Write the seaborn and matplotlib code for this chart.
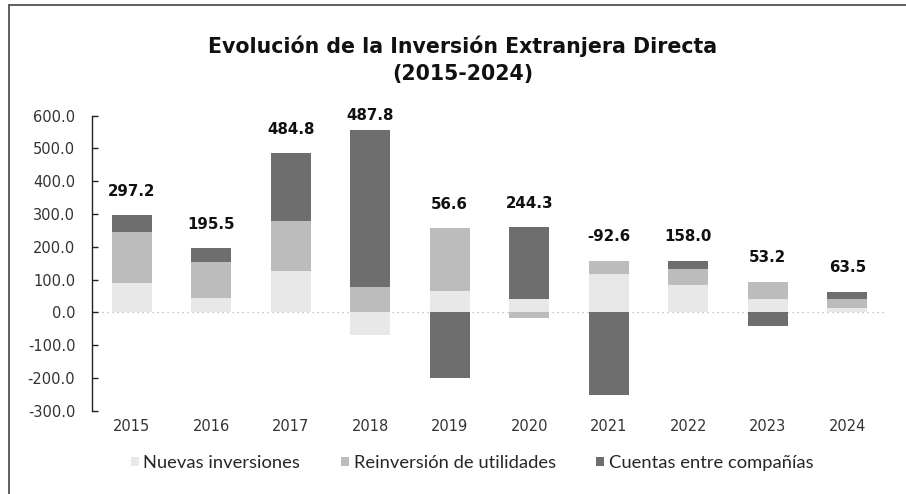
import numpy as np
import pandas as pd
import seaborn as sns
import matplotlib.pyplot as plt
from matplotlib.lines import Line2D
from matplotlib.patches import Patch

years = ['2015', '2016', '2017', '2018', '2019', '2020', '2021', '2022', '2023', '2024']
nuevas = [90, 45, 125, -68, 65, 40, 118, 85, 40, 12]
reinversion = [155, 108, 155, 78, 193, -17, 40, 48, 54, 30]
cuentas = [52.2, 42.5, 204.8, 477.8, -201.4, 221.3, -250.6, 25, -40.8, 21.5]
totales = [297.2, 195.5, 484.8, 487.8, 56.6, 244.3, -92.6, 158.0, 53.2, 63.5]

series = ['Nuevas inversiones', 'Reinversión de utilidades', 'Cuentas entre compañías']
colores = ['#e8e8e8', '#bcbcbc', '#6e6e6e']

sns.set_theme(style='white')
plt.rcParams['font.family'] = ['DejaVu Sans']

fig = plt.figure(figsize=(9.06, 4.94), dpi=100)
ax = fig.add_axes([0.1015, 0.1686, 0.8775, 0.5972])

df = pd.DataFrame({'anio': years, series[0]: nuevas,
                   series[1]: reinversion, series[2]: cuentas})

# stack positives up and negatives down, like the spreadsheet does
pos_base = np.zeros(len(years))
neg_base = np.zeros(len(years))
for nombre, color in zip(series, colores):
    vals = df[nombre].to_numpy(dtype=float)
    base = np.where(vals >= 0, pos_base, neg_base)
    sns.barplot(data=df, x='anio', y=nombre, bottom=base, color=color,
                width=0.5, errorbar=None, linewidth=0, ax=ax)
    pos_base = pos_base + np.where(vals > 0, vals, 0)
    neg_base = neg_base + np.where(vals < 0, vals, 0)

ax.axhline(0, color='#b5b5b5', lw=0.9, ls=(0, (1, 3)), zorder=0)

# total labels above each bar
for i, t in enumerate(totales):
    y = min(pos_base[i] + 72, 600)
    ax.text(i, y, f'{t:.1f}', ha='center', va='center', fontsize=10.8,
            fontweight='bold', color='#111111', clip_on=False)

ax.set_xlim(-0.5, 9.5)
ax.set_ylim(-300, 600)
ax.set_yticks(np.arange(-300, 601, 100))
ax.set_yticklabels([f'{v:.1f}' for v in np.arange(-300, 601, 100)])
ax.set_xlabel('')
ax.set_ylabel('')
for s in ['top', 'right', 'bottom']:
    ax.spines[s].set_visible(False)
ax.spines['left'].set_color('#222222')
ax.spines['left'].set_linewidth(1.0)
ax.tick_params(axis='y', direction='in', length=4, width=1, color='#222222',
               pad=12, labelsize=10.5, labelcolor='#333333', left=True)
ax.tick_params(axis='x', length=0, pad=6, labelsize=10.5, labelcolor='#333333')

fig.text(0.511, 0.8785, 'Evolución de la Inversión Extranjera Directa\n(2015-2024)',
         ha='center', va='center', fontsize=14.8, fontweight='bold',
         color='#111111', linespacing=1.45)

handles = [Patch(facecolor=c, edgecolor='none') for c in colores]
fig.legend(handles, series, loc='center', bbox_to_anchor=(0.521, 0.0628),
           ncol=3, frameon=False, handlelength=0.45, handleheight=0.45,
           handletextpad=0.25, columnspacing=2.2,
           prop={'family': 'Lato', 'size': 13.2})

# scanned frame: top and left edges
fig.add_artist(Line2D([9 / 906, 1], [1 - 5 / 494, 1 - 5 / 494],
                      transform=fig.transFigure, color='#444444', lw=1.2))
fig.add_artist(Line2D([9 / 906, 9 / 906], [0, 1 - 5 / 494],
                      transform=fig.transFigure, color='#444444', lw=1.2))

fig.savefig('out.png', dpi=100)
